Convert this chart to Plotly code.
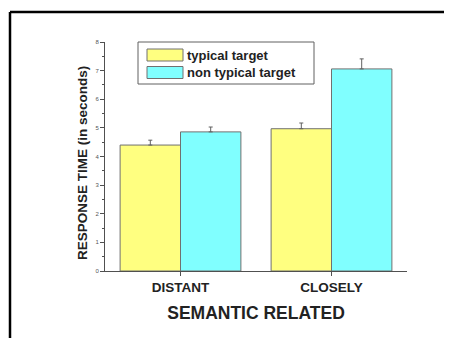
import plotly.graph_objects as go

categories = ["DISTANT", "CLOSELY"]
series_names = ["typical target", "non typical target"]
typical = [4.40, 4.97]
non_typical = [4.86, 7.06]
typical_err = [0.17, 0.20]
non_typical_err = [0.17, 0.35]
y_ticks = [0, 1, 2, 3, 4, 5, 6, 7, 8]
y_title = "RESPONSE TIME (in seconds)"
x_title = "SEMANTIC RELATED"

colors = ["#FFFF80", "#80FFFF"]
FONT = "Arial, Liberation Sans, sans-serif"

fig = go.Figure()
for name, vals, errs, col in zip(series_names, [typical, non_typical],
                                 [typical_err, non_typical_err], colors):
    fig.add_trace(go.Bar(
        x=categories, y=vals, name=name,
        marker=dict(color=col, line=dict(color="#707070", width=1)),
        error_y=dict(type="data", array=errs, arrayminus=[0] * len(errs),
                     symmetric=False, color="#606060", thickness=1, width=2),
        showlegend=False,
    ))

OFF = 8  # page body margin
W, H = 452 - OFF, 338 - OFF
L, R, T, B = 97, 45, 34, 67
pw, ph = W - L - R, H - T - B

def px(x):
    return (x - OFF - L) / pw

def py(y):
    return (H - B - (y - OFF)) / ph

shapes = [
    dict(type="line", xref="paper", yref="paper", x0=px(10), x1=px(470),
         y0=py(12), y1=py(12), line=dict(color="black", width=2.5)),
    dict(type="line", xref="paper", yref="paper", x0=px(10), x1=px(10),
         y0=py(12), y1=py(350), line=dict(color="black", width=2.5)),
    dict(type="rect", xref="paper", yref="paper", x0=px(138), x1=px(314),
         y0=py(84), y1=py(42), line=dict(color="#606060", width=1),
         fillcolor="white"),
]
annotations = []
for i, (name, col) in enumerate(zip(series_names, colors)):
    y0 = 49 + i * 17.5
    shapes.append(dict(type="rect", xref="paper", yref="paper",
                       x0=px(147), x1=px(183), y0=py(y0 + 12), y1=py(y0),
                       line=dict(color="#707070", width=1), fillcolor=col))
    annotations.append(dict(xref="paper", yref="paper", x=px(185), y=py(y0 + 6),
                            text=name, showarrow=False, xanchor="left",
                            yanchor="middle",
                            font=dict(family=FONT, size=13, color="#222222",
                                      weight="bold")))
annotations.append(dict(xref="paper", yref="paper", x=px(82), y=py(163),
                        text=y_title, textangle=-90, showarrow=False,
                        xanchor="center", yanchor="middle",
                        font=dict(family=FONT, size=13.5, color="#222222",
                                  weight="bold")))

fig.update_layout(
    width=W, height=H,
    margin=dict(l=L, r=R, t=T, b=B),
    paper_bgcolor="white", plot_bgcolor="white",
    barmode="group", bargap=0.2, bargroupgap=0,
    font=dict(family=FONT),
    shapes=shapes, annotations=annotations,
    xaxis=dict(
        range=[-0.5, 1.5], showline=True, linecolor="#505050", linewidth=1,
        ticks="outside", ticklen=4, tickcolor="#505050",
        tickfont=dict(family=FONT, size=13.5, color="#222222", weight="bold"),
        title=dict(text=x_title, standoff=12,
                   font=dict(family=FONT, size=17.5, color="#222222", weight="bold")),
        showgrid=False, zeroline=False,
    ),
    yaxis=dict(
        range=[0, 8], tickvals=y_ticks, showline=True, linecolor="#505050",
        linewidth=1, ticks="outside", ticklen=4, tickcolor="#505050",
        tickfont=dict(family=FONT, size=6, color="#555555"),
        minor=dict(dtick=0.5, ticks="outside", ticklen=2, tickcolor="#505050"),
        showgrid=False, zeroline=False,
    ),
)

fig.write_html("out.html")
